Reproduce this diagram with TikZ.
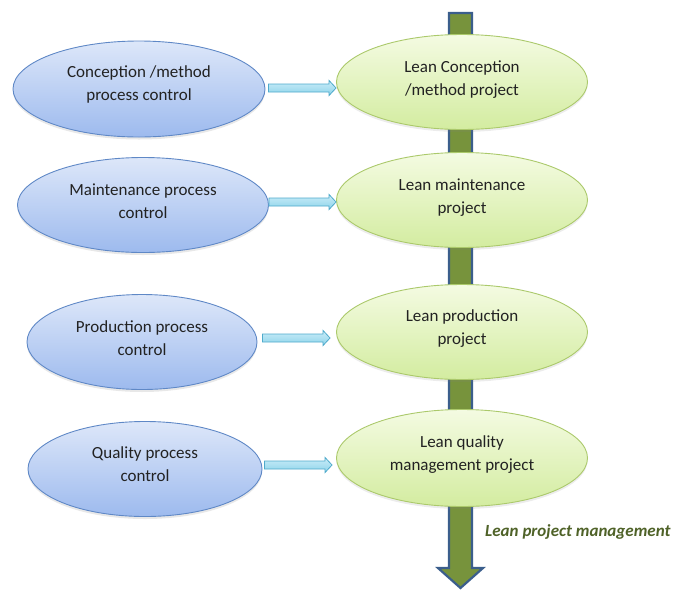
\documentclass[tikz,border=0pt]{standalone}
\usepackage{fontspec}
\setmainfont{Carlito}
\usetikzlibrary{shapes.geometric,shadows,calc}
\definecolor{bluetop}{HTML}{DDE7F9}
\definecolor{bluebot}{HTML}{9DBAEE}
\definecolor{blueline}{HTML}{5F88C6}
\definecolor{greentop}{HTML}{F4FBE2}
\definecolor{greenbot}{HTML}{D3ECA0}
\definecolor{greenline}{HTML}{ABC96B}
\definecolor{cyantop}{HTML}{CBEDF8}
\definecolor{cyanbot}{HTML}{8CD3EA}
\definecolor{cyanline}{HTML}{4FAACB}
\definecolor{olive}{HTML}{77933C}
\definecolor{navy}{HTML}{3B5E8C}
\definecolor{darkolive}{HTML}{4F6228}
\definecolor{txt}{HTML}{222222}
\tikzset{
  leftell/.style={ellipse, draw=blueline, line width=0.9pt, shading=axis, top color=bluetop, bottom color=bluebot,
    drop shadow={shadow xshift=0pt, shadow yshift=-2.5pt, opacity=0.18}},
  rightell/.style={ellipse, draw=greenline, line width=0.9pt, shading=axis, top color=greentop, bottom color=greenbot,
    drop shadow={shadow xshift=0pt, shadow yshift=-2.5pt, opacity=0.15}},
  lbl/.style={align=center, text=txt, font=\fontsize{17}{23}\selectfont},
  blk/.style={draw=cyanline, line width=0.8pt, shading=axis, top color=cyantop, bottom color=cyanbot},
  bigarrow/.style={draw=navy, line width=2.2pt, fill=olive, line join=miter}
}
\begin{document}
\begin{tikzpicture}[x=1pt,y=-1pt]
\useasboundingbox (0,0) rectangle (686,590);
% vertical arrow
\coordinate (vtop) at (460.5,13);
\coordinate (vtip) at (460.5,588);
\draw[bigarrow] ($(vtop)+(-11.5,0)$) -- ($(vtop)+(11.5,0)$) -- ($(vtip)+(11.5,-20)$) -- ($(vtip)+(22.5,-20)$)
  -- (vtip) -- ($(vtip)+(-22.5,-20)$) -- ($(vtip)+(-11.5,-20)$) -- cycle;
\node[anchor=west, font=\fontsize{17}{20}\selectfont\bfseries\itshape, text=darkolive, inner sep=0pt] (lpm) at (485,532) {Lean project management};
% left ellipses
\node[leftell, minimum width=252pt, minimum height=96pt] (L1) at (139,89) {};
\node[leftell, minimum width=251pt, minimum height=95pt] (L2) at (143,205) {};
\node[leftell, minimum width=230pt, minimum height=95pt] (L3) at (142,342) {};
\node[leftell, minimum width=234pt, minimum height=95pt] (L4) at (145,469) {};
\node[lbl] (L1t) at (139,84) {Conception /method\\process control};
\node[lbl] (L2t) at (143,201) {Maintenance process\\control};
\node[lbl] (L3t) at (142,338) {Production process\\control};
\node[lbl] (L4t) at (145,464.5) {Quality process\\control};
% right ellipses
\node[rightell, minimum width=251pt, minimum height=95pt] (R1) at (462,82) {};
\node[rightell, minimum width=251pt, minimum height=95pt] (R2) at (462,200) {};
\node[rightell, minimum width=251pt, minimum height=95pt] (R3) at (462,332) {};
\node[rightell, minimum width=251pt, minimum height=97pt] (R4) at (462,458) {};
\node[lbl] (R1t) at (462,79.5) {Lean Conception\\/method project};
\node[lbl] (R2t) at (462,198) {Lean maintenance\\project};
\node[lbl] (R3t) at (462,329) {Lean production\\project};
\node[lbl] (R4t) at (462,455) {Lean quality\\management project};
% small block arrows: start / end coordinates
\coordinate (s1) at ($(L1.east)+(3,-1)$);
\coordinate (e1) at (s1 -| R1.west);
\coordinate (s2) at ($(L2.east)+(0,-3)$);
\coordinate (e2) at (s2 -| R2.west);
\coordinate (s3) at ($(L3.east)+(5,-4)$);
\coordinate (e3) at ($(s3 -| R3.west)+(-6,0)$);
\coordinate (s4) at ($(L4.east)+(2,-4)$);
\coordinate (e4) at ($(s4 -| R4.west)+(-4,0)$);
\foreach \i in {1,2,3,4}{
  \draw[blk] ($(s\i)+(0,-4)$) -- ($(e\i)+(-7,-4)$) -- ($(e\i)+(-7,-7.5)$) -- (e\i)
    -- ($(e\i)+(-7,7.5)$) -- ($(e\i)+(-7,4)$) -- ($(s\i)+(0,4)$) -- cycle;
}
\end{tikzpicture}
\end{document}
